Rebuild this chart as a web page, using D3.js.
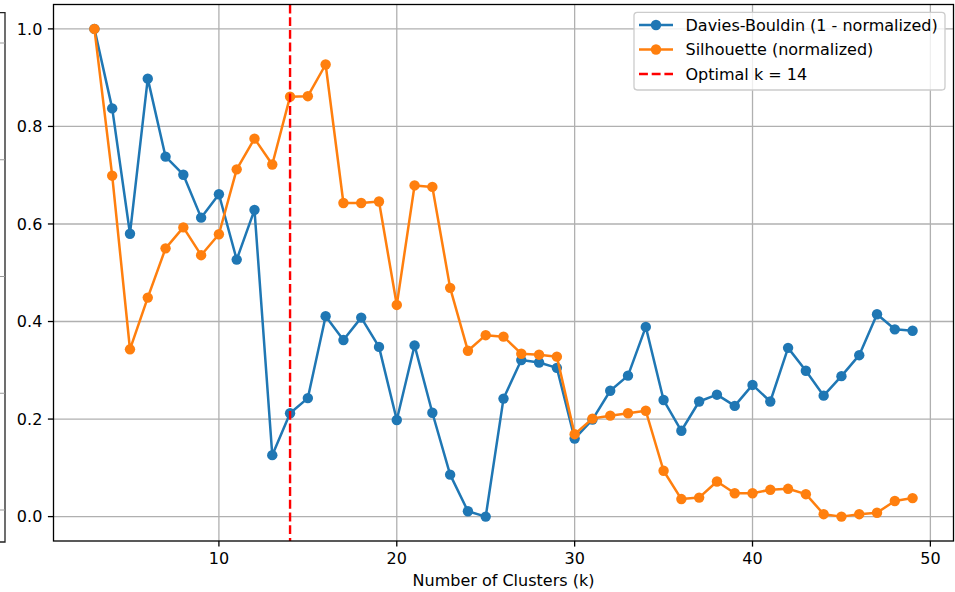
<!DOCTYPE html>
<html>
<head>
<meta charset="utf-8">
<script src="https://cdn.jsdelivr.net/npm/d3@7"></script>
<style>
    body { margin: 0; background: #fff; }
    svg { display: block; font-family: 'DejaVu Sans', sans-serif; }
    .tick-label { font-size: 16px; fill: #000; }
    .axis-title { font-size: 16px; fill: #000; }
    .legend-label { font-size: 16px; fill: #000; }
</style>
</head>
<body>
<div id="chart"></div>
<script>
// cluster counts tested
const kValues = [3, 4, 5, 6, 7, 8, 9, 10, 11, 12, 13, 14, 15, 16, 17, 18, 19, 20, 21, 22, 23, 24, 25, 26,
    27, 28, 29, 30, 31, 32, 33, 34, 35, 36, 37, 38, 39, 40, 41, 42, 43, 44, 45, 46, 47, 48, 49];

const daviesBouldin = [1.0, 0.837, 0.580, 0.898, 0.738, 0.701, 0.613, 0.661, 0.527, 0.629, 0.126, 0.212,
    0.243, 0.411, 0.362, 0.408, 0.348, 0.198, 0.351, 0.213, 0.086, 0.011, 0.0, 0.242, 0.321, 0.316,
    0.305, 0.160, 0.199, 0.258, 0.289, 0.389, 0.239, 0.176, 0.236, 0.250, 0.227, 0.270, 0.236, 0.346,
    0.299, 0.248, 0.288, 0.331, 0.415, 0.384, 0.381];

const silhouette = [1.0, 0.699, 0.343, 0.449, 0.550, 0.593, 0.536, 0.579, 0.712, 0.775, 0.722, 0.861,
    0.862, 0.927, 0.643, 0.643, 0.646, 0.434, 0.679, 0.676, 0.469, 0.340, 0.372, 0.369, 0.334, 0.332,
    0.328, 0.169, 0.201, 0.207, 0.212, 0.217, 0.094, 0.036, 0.039, 0.072, 0.048, 0.048, 0.055, 0.057,
    0.046, 0.005, 0.0, 0.005, 0.008, 0.032, 0.038];

const optimalK = 14;

const xTicks = [10, 20, 30, 40, 50];
const yTicks = [0.0, 0.2, 0.4, 0.6, 0.8, 1.0];

const legendItems = ['Davies-Bouldin (1 - normalized)', 'Silhouette (normalized)', `Optimal k = ${optimalK}`];

// ticks of the neighbouring (cut off) subplot on the far left
const stripTicks = [0, 1, 2, 3, 4];

class ClusterChart {
    constructor(_config) {
        this.config = {
            parentElement: _config.parentElement,
            containerWidth: 955,
            containerHeight: 592,
            margin: { top: 4.5, right: 1.5, bottom: 51, left: 53.5 },
            tickLength: 5.6,
            tickPad: 5.6,
            markerRadius: 5.2,
            blue: '#1f77b4',
            orange: '#ff7f0e'
        };
        this.initVis();
    }

    initVis() {
        let vis = this;
        const cfg = vis.config;

        vis.width = cfg.containerWidth - cfg.margin.left - cfg.margin.right;
        vis.height = cfg.containerHeight - cfg.margin.top - cfg.margin.bottom;

        vis.svg = d3.select(cfg.parentElement).append('svg')
            .attr('width', cfg.containerWidth)
            .attr('height', cfg.containerHeight);

        vis.chart = vis.svg.append('g')
            .attr('transform', `translate(${cfg.margin.left},${cfg.margin.top})`);

        // matplotlib style: 5% padding around data range
        vis.xScale = d3.scaleLinear().domain([0.7, 51.3]).range([0, vis.width]);
        vis.yScale = d3.scaleLinear().domain([-0.05, 1.05]).range([vis.height, 0]);

        vis.renderVis();
    }

    renderVis() {
        let vis = this;
        const cfg = vis.config;
        const x = vis.xScale, y = vis.yScale;

        // left strip: the edge of the previous subplot
        const stripScale = d3.scaleLinear().domain([0, 4]).range([510, 43]);
        const strip = vis.svg.append('g');
        strip.append('path')
            .attr('d', 'M0,12.7H5V542H0')
            .attr('fill', 'none')
            .attr('stroke', '#222')
            .attr('stroke-width', 1.3);
        strip.selectAll('.strip-tick')
            .data(stripTicks)
            .join('line')
            .attr('class', 'strip-tick')
            .attr('x1', 0).attr('x2', 5)
            .attr('y1', d => stripScale(d)).attr('y2', d => stripScale(d))
            .attr('stroke', '#999')
            .attr('stroke-width', 1);

        // grid
        vis.chart.selectAll('.grid-x')
            .data(xTicks)
            .join('line')
            .attr('class', 'grid-x')
            .attr('x1', d => x(d)).attr('x2', d => x(d))
            .attr('y1', 0).attr('y2', vis.height)
            .attr('stroke', '#b0b0b0')
            .attr('stroke-width', 1.3);
        vis.chart.selectAll('.grid-y')
            .data(yTicks)
            .join('line')
            .attr('class', 'grid-y')
            .attr('x1', 0).attr('x2', vis.width)
            .attr('y1', d => y(d)).attr('y2', d => y(d))
            .attr('stroke', '#b0b0b0')
            .attr('stroke-width', 1.3);

        // series
        const series = [
            { values: daviesBouldin, color: cfg.blue },
            { values: silhouette, color: cfg.orange }
        ];
        const line = d3.line().x(d => x(d.k)).y(d => y(d.v));
        series.forEach((s, i) => {
            const pts = kValues.map((k, j) => ({ k: k, v: s.values[j] }));
            vis.chart.append('path')
                .datum(pts)
                .attr('d', line)
                .attr('fill', 'none')
                .attr('stroke', s.color)
                .attr('stroke-width', 2.5)
                .attr('stroke-linejoin', 'round');
            vis.chart.selectAll(`.dot-${i}`)
                .data(pts)
                .join('circle')
                .attr('class', `dot-${i}`)
                .attr('cx', d => x(d.k))
                .attr('cy', d => y(d.v))
                .attr('r', cfg.markerRadius)
                .attr('fill', s.color);
        });

        // optimal k marker
        vis.chart.append('line')
            .attr('x1', x(optimalK)).attr('x2', x(optimalK))
            .attr('y1', 0).attr('y2', vis.height)
            .attr('stroke', '#ff0000')
            .attr('stroke-width', 2.4)
            .attr('stroke-dasharray', '8.9,3.8');

        // spines
        vis.chart.append('rect')
            .attr('width', vis.width)
            .attr('height', vis.height)
            .attr('fill', 'none')
            .attr('stroke', '#000')
            .attr('stroke-width', 1.3);

        // x ticks
        const xt = vis.chart.selectAll('.x-tick')
            .data(xTicks)
            .join('g')
            .attr('class', 'x-tick')
            .attr('transform', d => `translate(${x(d)},${vis.height})`);
        xt.append('line')
            .attr('y2', cfg.tickLength)
            .attr('stroke', '#000')
            .attr('stroke-width', 1.3);
        xt.append('text')
            .attr('class', 'tick-label')
            .attr('text-anchor', 'middle')
            .attr('y', cfg.tickLength + cfg.tickPad)
            .attr('dy', '0.76em')
            .text(d => d);

        // y ticks
        const yt = vis.chart.selectAll('.y-tick')
            .data(yTicks)
            .join('g')
            .attr('class', 'y-tick')
            .attr('transform', d => `translate(0,${y(d)})`);
        yt.append('line')
            .attr('x2', -cfg.tickLength)
            .attr('stroke', '#000')
            .attr('stroke-width', 1.3);
        yt.append('text')
            .attr('class', 'tick-label')
            .attr('text-anchor', 'end')
            .attr('x', -(cfg.tickLength + cfg.tickPad))
            .attr('dy', '0.36em')
            .text(d => d.toFixed(1));

        // axis title
        vis.chart.append('text')
            .attr('class', 'axis-title')
            .attr('text-anchor', 'middle')
            .attr('x', vis.width / 2)
            .attr('y', vis.height + 45)
            .text('Number of Clusters (k)');

        // legend
        const legend = vis.svg.append('g')
            .attr('transform', 'translate(634,12.3)');
        legend.append('rect')
            .attr('width', 311)
            .attr('height', 77.7)
            .attr('rx', 3.2)
            .attr('fill', '#fff')
            .attr('fill-opacity', 0.8)
            .attr('stroke', '#cccccc')
            .attr('stroke-width', 1.3);
        const rowColors = [cfg.blue, cfg.orange, '#ff0000'];
        const rows = legend.selectAll('.legend-row')
            .data(legendItems)
            .join('g')
            .attr('class', 'legend-row')
            .attr('transform', (d, i) => `translate(0,${12.7 + i * 24.5})`);
        rows.append('line')
            .attr('x1', 5).attr('x2', 39)
            .attr('stroke', (d, i) => rowColors[i])
            .attr('stroke-width', 2.4)
            .attr('stroke-dasharray', (d, i) => i === 2 ? '8.9,3.8' : null);
        rows.filter((d, i) => i < 2)
            .append('circle')
            .attr('cx', 22)
            .attr('r', cfg.markerRadius)
            .attr('fill', (d, i) => rowColors[i]);
        rows.append('text')
            .attr('class', 'legend-label')
            .attr('x', 51.5)
            .attr('dy', '0.36em')
            .text(d => d);
    }
}

new ClusterChart({ parentElement: '#chart' });
</script>
</body>
</html>
